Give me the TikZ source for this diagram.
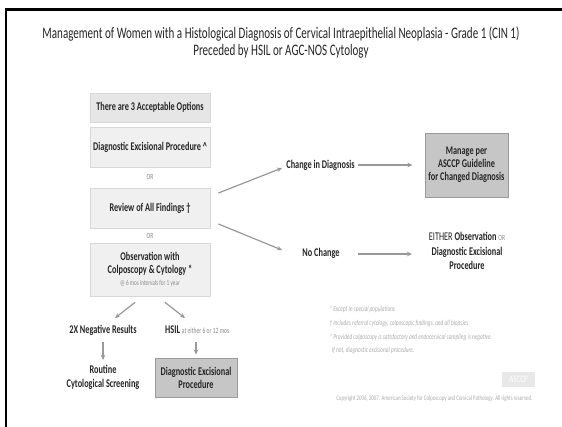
\documentclass[tikz,border=0pt]{standalone}
\usepackage{fontspec}
\setmainfont{Carlito}[FakeStretch=0.7]
\newfontfamily\headfont{Carlito}[FakeStretch=0.69]
\usetikzlibrary{arrows.meta,calc}
\definecolor{ink}{HTML}{262626}
\definecolor{soft}{HTML}{8A8A8A}
\definecolor{faint}{HTML}{ADADAD}
\definecolor{arrowgray}{HTML}{999999}
\definecolor{boxfill}{HTML}{F0F0F0}
\definecolor{boxfilltop}{HTML}{E6E6E6}
\definecolor{boxedge}{HTML}{D8D8D8}
\definecolor{darkfill}{HTML}{C6C6C6}
\definecolor{darkedge}{HTML}{9A9A9A}
\tikzset{
  optbox/.style={draw=boxedge, fill=boxfill, line width=0.8pt, minimum width=120pt,
    align=center, inner sep=2pt, text=ink, font=\bfseries\fontsize{11.8}{13}\selectfont},
  resultbox/.style={draw=darkedge, fill=darkfill, line width=1pt, align=center,
    text=ink, font=\bfseries\fontsize{11.8}{13}\selectfont},
  label/.style={align=center, text=ink, font=\bfseries\fontsize{11.8}{14.5}\selectfont, inner sep=1pt},
  ortext/.style={text=soft, font=\fontsize{8}{9}\selectfont},
  note/.style={text=faint, font=\itshape\fontsize{7.6}{13.6}\selectfont, align=left, anchor=north west},
  arr/.style={draw=arrowgray, line width=1.2pt, -{Stealth[length=5pt,width=4.5pt]}},
}
\begin{document}
\begin{tikzpicture}[x=1pt,y=-1pt]
\useasboundingbox (0,0) rectangle (562,426);
\fill[white] (0,0) rectangle (562,426);
% page frame
\draw[line width=2.6pt] (6,427) -- (6,9.3) -- (563,9.3);

% heading
\node[text=ink, font=\headfont\fontsize{16}{18}\selectfont] (title1) at (281,34)
  {Management of Women with a Histological Diagnosis of Cervical Intraepithelial Neoplasia - Grade 1 (CIN 1)};
\node[text=ink, font=\headfont\fontsize{16}{18}\selectfont] (title2) at (281,51)
  {Preceded by HSIL or AGC-NOS Cytology};

% the three options
\node[optbox, fill=boxfilltop, minimum height=29pt] (opts) at (150,107.5) {There are 3 Acceptable Options};
\node[optbox, minimum height=40pt] (dep) at (150,147) {Diagnostic Excisional Procedure \^{}};
\node[ortext] (or1) at (150,177) {OR};
\node[optbox, minimum height=40pt] (review) at (150,208) {Review of All Findings \dag};
\node[ortext] (or2) at (150,236) {OR};
\node[optbox, minimum height=53pt] (obs) at (150,269.5)
  {Observation with\\Colposcopy \& Cytology *\\[-1pt]{\mdseries\color{soft}\fontsize{7.5}{8}\selectfont @ 6 mos intervals for 1 year}};

% review outcomes
\node[label] (chg) at (320.5,165) {Change in Diagnosis};
\node[resultbox, minimum width=83pt, minimum height=64pt] (asccp) at (466.5,165)
  {Manage per\\ASCCP Guideline\\for Changed Diagnosis};
\node[label] (nochg) at (321,253) {No Change};
\node[label] (either) at (467,251)
  {{\mdseries EITHER} Observation {\mdseries\color{soft}\fontsize{8}{9}\selectfont OR}\\Diagnostic Excisional\\Procedure};

\draw[arr] ($(review.east)+(8,-15)$) -- (282,168);
\draw[arr] ($(review.east)+(8,16)$) -- (282,250);
\draw[arr] (358,165) -- ($(asccp.west)+(-12,0)$);
\draw[arr] (358,254) -- (412,254);

% observation outcomes
\node[label] (neg) at (103,330) {2X Negative Results};
\node[label, anchor=west] (hsil) at (164,330) {HSIL {\mdseries\color{soft}\fontsize{8}{9}\selectfont at either 6 or 12 mos}};
\node[label] (routine) at (103,377.5) {Routine\\Cytological Screening};
\node[resultbox, minimum width=82pt, minimum height=39pt] (dep2) at (196,377.5)
  {Diagnostic Excisional\\Procedure};

\draw[arr] ($(obs.south)+(-15,6)$) -- (115,318);
\draw[arr] ($(obs.south)+(15,6)$) -- (185,318);
\draw[arr] (103,342) -- ($(routine.north)+(0,-4)$);
\draw[arr] (196,342) -- ($(dep2.north)+(0,-3)$);

% footnotes
\node[note] (notes) at (326,303)
  {* Except in special populations\\
   \dag\ Includes referral cytology, colposcopic findings, and all biopsies\\
   * Provided colposcopy is satisfactory and endocervical sampling is negative.\\
   \ \ If not, diagnostic excisional procedure.};

% society mark and copyright
\node[fill=black!9, text=white, font=\fontsize{10}{10}\selectfont, minimum width=33pt, minimum height=15pt, inner sep=0pt] (logo) at (518.5,379.5) {ASCCP};
\node[text=faint, font=\fontsize{7}{7}\selectfont, anchor=east] (copy) at (536,399)
  {Copyright 2006, 2007. American Society for Colposcopy and Cervical Pathology. All rights reserved.};
\end{tikzpicture}
\end{document}
